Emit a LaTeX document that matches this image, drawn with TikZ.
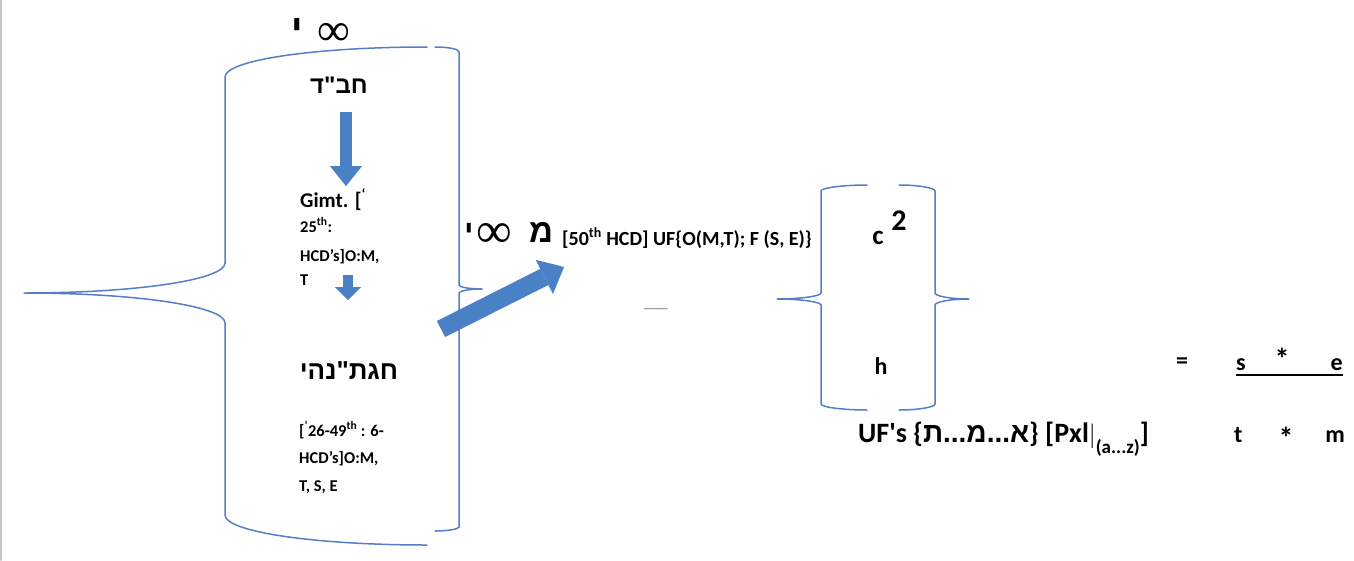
\documentclass[tikz,border=0pt]{standalone}
\usepackage{fontspec}
\setmainfont{Carlito}
\newfontfamily\hebfont{Liberation Sans}
\newfontfamily\inffont{Liberation Serif}
\usetikzlibrary{arrows.meta}
\definecolor{bracecol}{RGB}{84,126,200}
\definecolor{arrowcol}{RGB}{74,128,196}
\definecolor{framecol}{RGB}{200,200,200}
\begin{document}
\begin{tikzpicture}[x=1pt,y=-1pt,line join=round,line cap=round,
	brace/.style={draw=bracecol,line width=1.5pt},
	blockarrow/.style={arrowcol,line cap=butt,line join=miter},
	small/.style={inner sep=0pt,anchor=base west,font=\bfseries\fontsize{16.5}{18}\selectfont},
	large/.style={inner sep=0pt,font=\bfseries\fontsize{24}{26}\selectfont},
	heb/.style={inner sep=0pt,font=\hebfont\bfseries\fontsize{24}{26}\selectfont},
	infsign/.style={inner sep=0pt,font=\inffont\fontsize{46}{46}\selectfont}]
	\useasboundingbox (0,0) rectangle (1354,560);
	\draw[framecol,line width=2pt] (1,0)--(1,560);
	% big brace pair
	\draw[brace] (427,47) .. controls (316,47) and (225,60) .. (225,77)--(225,263)
		.. controls (225,280) and (135,293) .. (24,293)
		.. controls (135,293) and (225,306) .. (225,323)--(225,515)
		.. controls (225,532) and (316,545) .. (427,545);
	\draw[brace] (435,47) .. controls (448,47) and (459,49) .. (459,52)--(459,285)
		.. controls (459,287) and (469,289) .. (482,289)
		.. controls (469,289) and (459,291) .. (459,293)--(459,527)
		.. controls (459,529) and (448,531) .. (435,531);
	% small brace pair
	\draw[brace] (867,185) .. controls (842,185) and (821,188) .. (821,191)--(821,293)
		.. controls (821,296) and (801,299) .. (777,299)
		.. controls (801,299) and (821,302) .. (821,305)--(821,404)
		.. controls (821,407) and (842,410) .. (867,410);
	\draw[brace] (899,185) .. controls (919,185) and (935,188) .. (935,191)--(935,293)
		.. controls (935,296) and (950,299) .. (969,299)
		.. controls (950,299) and (935,302) .. (935,305)--(935,404)
		.. controls (935,407) and (919,410) .. (899,410);
	% left column
	\node[heb,font=\hebfont\bfseries\fontsize{38}{38}\selectfont] (yodA) at (297,30) {י};
	\node[infsign] (infA) at (334,34) {∞};
	\node[heb] (chabad) at (339,85) {חב"ד};
	\node[small,font=\bfseries\fontsize{21}{23}\selectfont] (gimt) at (300,207) {Gimt. [\textsuperscript{`}};
	\node[small] (gimtB) at (300,232) {25\textsuperscript{th}:};
	\node[small] (gimtC) at (300,261) {HCD’s]O:M,};
	\node[small] (gimtD) at (300,285) {T};
	\node[heb,font=\hebfont\bfseries\fontsize{26}{28}\selectfont] (chagat) at (349,371) {חגת"נהי};
	\node[small] (nehiA) at (299,436) {[\textsuperscript{`}26-49\textsuperscript{th} : 6-};
	\node[small] (nehiB) at (299,463) {HCD’s]O:M,};
	\node[small] (nehiC) at (299,491) {T, S, E};
	\path (346,112) coordinate (dA1) (346,186) coordinate (dA2)
		(348,275) coordinate (dB1) (348,300) coordinate (dB2)
		(441,329) coordinate (fA1) (564,267) coordinate (fA2);
	\draw[blockarrow,line width=12pt,-{Triangle[width=32pt,length=20pt,line width=0.1pt]}] (dA1)--(dA2);
	\draw[blockarrow,line width=10pt,-{Triangle[width=26pt,length=13pt,line width=0.1pt]}] (dB1)--(dB2);
	\draw[blockarrow,line width=18pt,-{Triangle[width=38pt,length=22pt,line width=0.1pt]}] (fA1)--(fA2);
	% middle
	\node[heb,font=\hebfont\bfseries\fontsize{30}{30}\selectfont] (yodB) at (469,232) {י};
	\node[infsign,font=\inffont\fontsize{50}{50}\selectfont] (infB) at (494,235) {∞};
	\node[heb,font=\hebfont\bfseries\fontsize{33}{35}\selectfont] (mem) at (541,232) {מ};
	\node[small,font=\bfseries\fontsize{20}{22}\selectfont] (fifty) at (562,245) {[50\textsuperscript{th} HCD] UF\{O(M,T); F (S, E)\}};
	\node[inner sep=0pt,text=gray,font=\fontsize{16}{16}\selectfont] (dash) at (656,309) {\_\_\_};
	% fraction
	\node[large,font=\bfseries\fontsize{27}{29}\selectfont] (cc) at (878,238) {c};
	\node[large,font=\bfseries\fontsize{30}{32}\selectfont] (two) at (899,221) {2};
	\node[large] (hh) at (881,366) {h};
	\node[large] (eq) at (1182,363) {=};
	\node[large,anchor=base west] (ss) at (1236,370) {s};
	\node[large,font=\bfseries\fontsize{30}{32}\selectfont] (starA) at (1282,359) {*};
	\node[large,anchor=base east] (ee) at (1343,370) {e};
	\path (ss.base west) ++(0,5) coordinate (ulA) (ee.base east) ++(0,5) coordinate (ulB);
	\draw[line width=1.6pt,line cap=butt] (ulA)--(ulB);
	\node[large,anchor=base west,font=\bfseries\fontsize{28}{30}\selectfont] (ufs) at (858,442)
		{UF\textquotesingle s \{{\hebfont א...מ...ת}\} [Pxl$\Big|$\raisebox{-0.42em}{\fontsize{19}{19}\selectfont(a...z)}]};
	\node[large,anchor=base west] (tt) at (1234,442) {t};
	\node[large,font=\bfseries\fontsize{30}{32}\selectfont] (starB) at (1286,438) {*};
	\node[large,anchor=base east] (mm) at (1345,442) {m};
\end{tikzpicture}
\end{document}
